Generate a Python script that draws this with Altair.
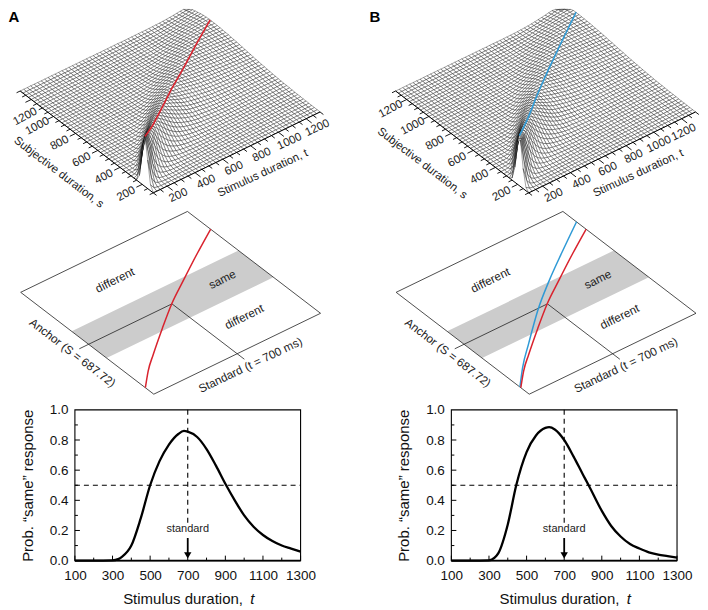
import altair as alt
import numpy as np
import pandas as pd

# ---- values ----
# Bottom panels: probability of "same" vs stimulus duration
a_t = [100,200,300,330,350,400,450,500,550,600,650,680,700,750,800,850,900,950,1000,1050,1100,1150,1200,1250,1300]
a_p = [0,0,0.002,0.01,0.025,0.10,0.28,0.50,0.66,0.77,0.84,0.86,0.855,0.82,0.74,0.63,0.51,0.40,0.30,0.225,0.17,0.13,0.10,0.08,0.06]
b_t = [100,200,300,330,350,400,445,500,550,600,620,650,700,750,800,830,900,950,1000,1050,1100,1150,1200,1250,1300]
b_p = [0,0,0.002,0.02,0.05,0.24,0.50,0.72,0.83,0.88,0.885,0.87,0.80,0.69,0.57,0.50,0.33,0.23,0.16,0.11,0.08,0.055,0.04,0.03,0.02]

# Ridge of the surfaces / curves in the plane (t, subjective s, ridge height in picture units)
red_t = [100,208,326,518,698,887,1099,1300]
red_s = [176,286,388,546,688,818,961,1091]
red_z = [50,37,28,19,13,10,8.8,8]
blue_t = [101,223,381,635,832,1063,1301]
blue_s = [185,314,460,687,842,1010,1178]
blue_z = [50,36,25,14,10.5,9,8.2]

band_s = [525, 840]
std_t = 700
anchor_s = 687.72
tick_vals = [200,400,600,800,1000,1200]
dur_min, dur_max = 100, 1300
x_major = [100,300,500,700,900,1100,1300]
x_minor = [200,400,600,800,1000,1200]
y_major = [0.2,0.4,0.6,0.8]
y_minor = [0.1,0.3,0.5,0.7,0.9]

# ---- oblique view of the (t, s) plane ----
U = np.array([167.0,-81.0])/1200
V = np.array([-133.3,-102.0])/1200
OFF_B = 376
F3 = np.array([153.5,191.7])
F2 = np.array([154.0,393.3])

def proj(front, t, s, z=0.0):
    t = np.asarray(t,float); s = np.asarray(s,float)
    x = front[0]+(t-dur_min)*U[0]+(s-dur_min)*V[0]
    y = front[1]+(t-dur_min)*U[1]+(s-dur_min)*V[1]-z
    return x, y

def line_df(front, t, s, z=0.0):
    x,y = proj(front,t,s,z)
    return pd.DataFrame({'x':np.round(x,2),'y':np.round(y,2),'k':np.arange(len(x))})

X = alt.X('x:Q',scale=alt.Scale(domain=[75,700]),axis=None)
Y = alt.Y('y:Q',scale=alt.Scale(domain=[401,8]),axis=None)

def poly(df, **kw):
    return alt.Chart(df).mark_line(**kw).encode(x=X,y=Y,order='k:Q')

def surface(front, rt, rs, rz):
    # The ~2400 facets cannot be read one by one: the mesh is a parametric ridge
    # built on the ridge position/height arrays.
    ts = np.arange(dur_min,dur_max+1,25.0)
    ss = np.arange(dur_min,dur_max+1,25.0)
    T,S = np.meshgrid(ts,ss,indexing='ij')
    R = np.interp(T,rt,rs)
    H = np.interp(T,rt,rz)
    low = 0.14+0.16*(T-dur_min)/1200
    w = np.where(S<R,low,0.14)*R
    Z = H*np.exp(-(S-R)**2/(2*w**2))
    PX,PY = proj(front,T,S,Z)
    PY = np.maximum(PY,8.0)   # the page margin hides anything higher
    rows=[]
    n=len(ts)
    order = sorted(((i,j) for i in range(n-1) for j in range(n-1)),key=lambda a:-(a[0]+a[1]))
    for q,(i,j) in enumerate(order):
        for k,(a,b) in enumerate([(i,j),(i+1,j),(i+1,j+1),(i,j+1),(i,j)]):
            rows.append((round(PX[a,b],1),round(PY[a,b],1),q,k))
    df = pd.DataFrame(rows,columns=['x','y','q','k'])
    return alt.Chart(df).mark_line(fill='white',stroke='#111',strokeWidth=0.38).encode(
        x=X,y=Y,detail='q:N',order='k:Q')

B_LABEL_SHIFT = {200:0,400:0,600:-1.5,800:-3.5,1000:-6,1200:-9}

def axes3d(front, is_a):
    tt = np.arange(dur_min,dur_max+1,50.0)
    maj = np.isin(tt,tick_vals)
    ln_t = np.where(maj,50,30)
    ln_s = np.where(maj,42,26)
    x1,y1 = proj(front,tt,np.full_like(tt,dur_min))
    x2,y2 = proj(front,tt,dur_min-ln_t)
    x3,y3 = proj(front,np.full_like(tt,dur_min),tt)
    x4,y4 = proj(front,dur_min-ln_s,tt)
    d = pd.DataFrame({'x':np.r_[x1,x3],'y':np.r_[y1,y3],'x2':np.r_[x2,x4],'y2':np.r_[y2,y4]})
    ticks = alt.Chart(d).mark_rule(color='black',strokeWidth=0.9).encode(x=X,y=Y,x2='x2:Q',y2='y2:Q')
    e1 = poly(line_df(front,[dur_min,dur_max],[dur_min,dur_min]),color='black',strokeWidth=1)
    e2 = poly(line_df(front,[dur_min,dur_min],[dur_min,dur_max]),color='black',strokeWidth=1)
    rows=[]
    for v in tick_vals:
        x,y = proj(front,v,dur_min)
        sh = 0 if is_a else B_LABEL_SHIFT[v]
        rows.append((float(x)+11.3+sh,float(y)+9.5-0.485*sh,335,str(v)))
        x,y = proj(front,dur_min,v)
        dx,dy = (-16,9.8)
        if is_a and v==1200: dx,dy=(-6,17.4)
        rows.append((float(x)+dx,float(y)+dy,332,str(v)))
    x0=float(front[0])-153.5
    rows.append((x0+263.3,172.3,335,'Stimulus duration, t'))
    sx,sy=(12,9.2) if is_a else (0,0)
    rows.append((x0+46.7+sx,162.3+sy,37.3,'Subjective duration, s'))
    return [ticks,e1,e2,text_layer(rows,11.5)]

def text_layer(rows,size):
    d = pd.DataFrame(rows,columns=['x','y','a','txt'])
    return alt.Chart(d).mark_text(font='Liberation Sans',fontSize=size,color='#222',baseline='middle',align='center').encode(
        x=X,y=Y,text='txt:N',angle=alt.Angle('a:Q',scale=None))

def plane(front, curves):
    o = float(front[0])-154.0
    lm,hm = dur_min,dur_max
    band = poly(line_df(front,[lm,hm,hm,lm,lm],[band_s[0],band_s[0],band_s[1],band_s[1],band_s[0]]),
                fill='#cccccc',strokeOpacity=0)
    frame = poly(line_df(front,[lm,hm,hm,lm,lm],[lm,lm,hm,hm,lm]),color='#222',strokeWidth=0.8)
    std = poly(line_df(front,[std_t,std_t],[anchor_s,35]),color='#222',strokeWidth=0.8)
    anc = poly(line_df(front,[std_t,33],[anchor_s,anchor_s]),color='#222',strokeWidth=0.8)
    out=[band,frame,std,anc]
    for t,s,c in curves:
        out.append(poly(line_df(front,t,s),color=c,strokeWidth=1.5,interpolate='monotone'))
    rows=[(o+115,279,333.5,'different'),(o+222.5,278.3,333.5,'same'),(o+244.5,315.7,333.5,'different'),
          (o+72.7,351.7,37.5,'Anchor (S = 687.72)'),(o+250.7,364,334.5,'Standard (t = 700 ms)')]
    out.append(text_layer(rows,11.7))
    return out

RED='#d9232e'; BLUE='#2f9ad6'
layers=[]
for off,rt,rs,rz,c,first in [(0,red_t,red_s,red_z,RED,True),(OFF_B,blue_t,blue_s,blue_z,BLUE,False)]:
    f3=F3+[off,0]
    layers.append(surface(f3,rt,rs,rz))
    layers.append(poly(line_df(f3,rt,rs,rz),color=c,strokeWidth=1.6))
    layers+=axes3d(f3,first)
layers+=plane(F2,[(red_t,red_s,RED)])
layers+=plane(F2+[OFF_B,0],[(blue_t,blue_s,BLUE),(red_t,red_s,RED)])
letters=pd.DataFrame({'x':[14,375.5],'y':[15.5,15.5],'txt':['A','B']})
layers.append(alt.Chart(letters).mark_text(font='Liberation Sans',fontWeight='bold',fontSize=15,color='black',baseline='middle').encode(x=X,y=Y,text='txt:N'))
scene=alt.layer(*layers).properties(width=625,height=393)

W,H=226,151
SX=alt.Scale(domain=[dur_min,dur_max],nice=False,zero=False)
SY=alt.Scale(domain=[0,1],nice=False)
tx=alt.X('t:Q',scale=SX,title=None,axis=alt.Axis(values=x_major,format='d',ticks=False,domain=False,grid=False,labelFont='Liberation Sans',labelFontSize=13.5,labelColor='#111',labelPadding=8,labelFlush=False,labelOverlap=False))
py=alt.Y('p:Q',scale=SY,title='Prob. “same” response',axis=alt.Axis(values=[0,0.2,0.4,0.6,0.8,1.0],format='.1f',ticks=False,domain=False,grid=False,labelFont='Liberation Sans',labelFontSize=13.5,labelColor='#111',labelPadding=7,labelOverlap=False,titleFont='Liberation Sans',titleFontSize=15,titleFontWeight='normal',titleColor='#111',titlePadding=14))

def prob(t,p):
    d=pd.DataFrame({'t':t,'p':p})
    base=alt.Chart(d).mark_line(color='black',strokeWidth=2.3,interpolate='monotone').encode(x=tx,y=py)
    def vt(vals,l):
        return alt.Chart(pd.DataFrame({'t':vals})).mark_rule(color='black',strokeWidth=1).encode(x=tx,y=alt.value(H),y2=alt.value(H-l))
    def ht(vals,l):
        return alt.Chart(pd.DataFrame({'p':vals})).mark_rule(color='black',strokeWidth=1).encode(y=py,x=alt.value(0),x2=alt.value(l))
    dash=[5,4]
    h5=alt.Chart(pd.DataFrame({'p':[0.5]})).mark_rule(color='black',strokeWidth=1.1,strokeDash=dash).encode(y=py,x=alt.value(0),x2=alt.value(W))
    v7=alt.Chart(pd.DataFrame({'t':[std_t],'p':[1.0],'p2':[0.25]})).mark_rule(color='black',strokeWidth=1.1,strokeDash=dash).encode(x=tx,y=py,y2='p2:Q')
    arrow=alt.Chart(pd.DataFrame({'t':[std_t],'p':[0.15],'p2':[0.03]})).mark_rule(color='black',strokeWidth=1.8).encode(x=tx,y=py,y2='p2:Q')
    head=alt.Chart(pd.DataFrame({'t':[std_t],'p':[0.035]})).mark_point(shape='triangle-down',filled=True,color='black',size=55,opacity=1).encode(x=tx,y=py)
    std=alt.Chart(pd.DataFrame({'t':[std_t],'p':[0.208],'txt':['standard']})).mark_text(font='Liberation Sans',fontSize=11,color='#222').encode(x=tx,y=py,text='txt:N')
    frame=alt.Chart(pd.DataFrame({'a':[0]})).mark_rect(fillOpacity=0,stroke='black',strokeWidth=1.1).encode(x=alt.value(0),x2=alt.value(W),y=alt.value(0),y2=alt.value(H))
    bottom=alt.Chart(pd.DataFrame({'a':[0]})).mark_rule(color='black',strokeWidth=1.6).encode(x=alt.value(0),x2=alt.value(W),y=alt.value(H))
    pad=alt.Chart(pd.DataFrame({'a':[0]})).mark_rule(opacity=0).encode(x=alt.value(-67),y=alt.value(0),y2=alt.value(2))
    tt=alt.Chart(pd.DataFrame({'a':[0]})).mark_text(font='Liberation Sans',fontSize=15,color='#111',align='left',baseline='middle').encode(x=alt.value(48.3),y=alt.value(189),text=alt.value('Stimulus duration,'))
    ti=alt.Chart(pd.DataFrame({'a':[0]})).mark_text(font='Liberation Sans',fontSize=15,fontStyle='italic',color='#111',align='left',baseline='middle').encode(x=alt.value(175.7),y=alt.value(189),text=alt.value('t'))
    return alt.layer(h5,v7,vt(x_major,5),vt(x_minor,3),ht(y_major,5),ht(y_minor,3),base,arrow,head,std,frame,bottom,pad,tt,ti).properties(width=W,height=H)

bottom=alt.hconcat(prob(a_t,a_p),prob(b_t,b_p),spacing=68)
chart=alt.vconcat(scene,bottom,spacing=1).properties(padding=0,background='white').configure_view(stroke=None)
chart.save("out.html", embed_options={"renderer":"svg","actions":False})
